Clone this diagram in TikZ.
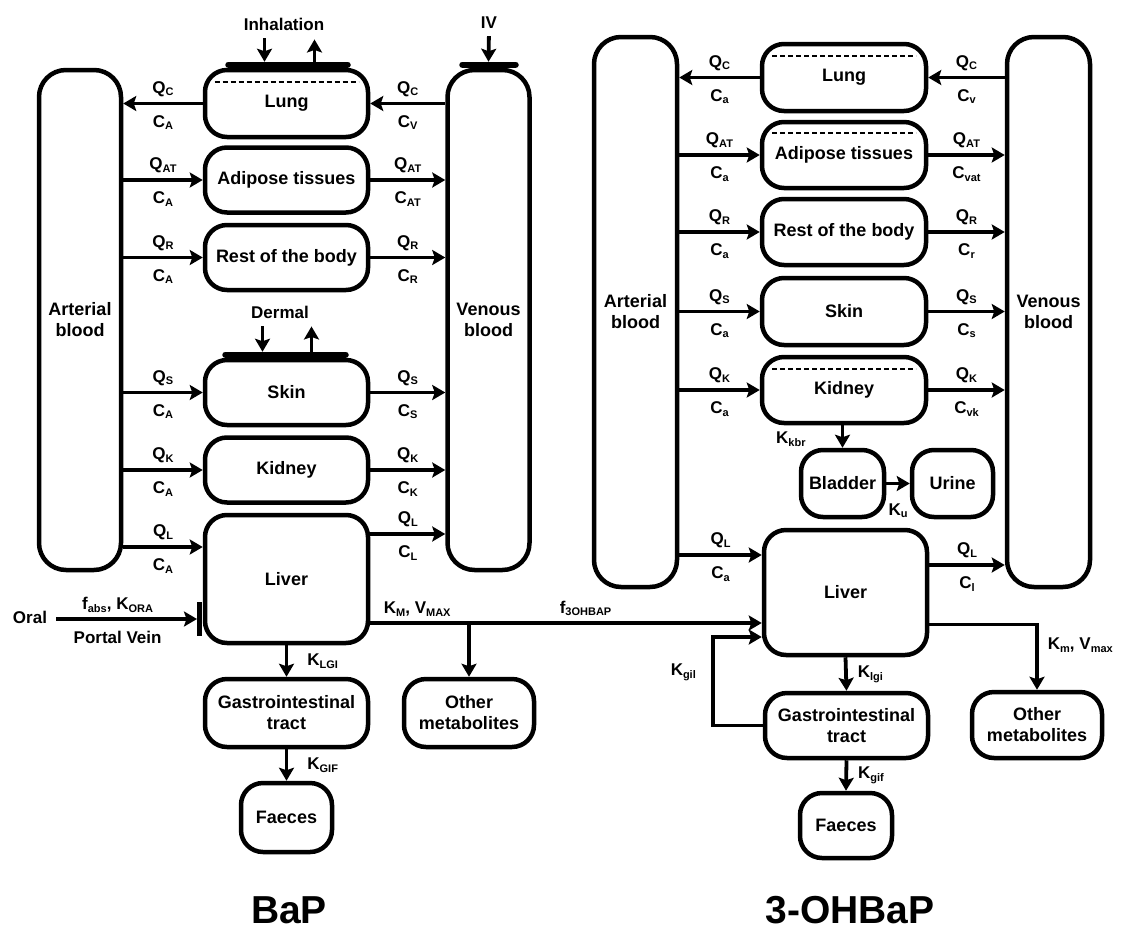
\documentclass[tikz,border=0pt]{standalone}
\usepackage{fontspec}
\setmainfont{Liberation Sans}
\usepackage{tikz}
\usetikzlibrary{arrows.meta}
\usetikzlibrary{calc}

\newcommand\sbs[2]{#1\raisebox{-0.3ex}{\fontsize{11}{11}\selectfont #2}}

\tikzset{
  box/.style={draw, line width=4.5pt, rounded corners=22pt, minimum width=163pt,
    minimum height=65pt, align=center, inner sep=0pt,
    font=\fontsize{18}{21}\selectfont\bfseries},
  blood/.style={box, rounded corners=27pt, minimum width=82pt},
  arr/.style={line width=3.8pt, -{Stealth[length=13pt,width=15pt,inset=2.5pt]}},
  lbl/.style={font=\fontsize{17}{20}\selectfont\bfseries, inner sep=1pt},
  qlab/.style={lbl, above=4pt},
  clab/.style={lbl, below=9pt},
  bar/.style={line width=6.5pt, line cap=round},
  sep/.style={line width=2pt, dash pattern=on 5pt off 3pt},
}

\begin{document}
\begin{tikzpicture}[x=1pt, y=-1pt]
    \useasboundingbox (0,0) rectangle (1124,932);

    % BaP
    \node[blood, minimum height=500pt] (art1) at (80,320) {Arterial\\blood};
    \node[blood, minimum height=500pt] (ven1) at (488.5,320) {Venous\\blood};
    \node[box, minimum height=67pt] (lung1) at (286.5,103.5) {Lung};
    \node[box] (adi1) at (286.5,180) {Adipose tissues};
    \node[box] (rest1) at (286.5,257.5) {Rest of the body};
    \node[box] (skin1) at (286.5,392.5) {Skin};
    \node[box] (kid1) at (286.5,470) {Kidney};
    \node[box, minimum height=128pt] (liv1) at (286.5,579) {Liver};
    \node[box, minimum height=68pt] (gi1) at (286.5,713) {Gastrointestinal\\tract};
    \node[box, minimum width=130pt, minimum height=68pt] (oth1) at (469,713) {Other\\metabolites};
    \node[box, minimum width=91pt, minimum height=69pt] (fae1) at (286.5,817.5) {Faeces};
    \node[font=\fontsize{39}{44}\selectfont\bfseries] (bap) at (289,910) {BaP};

    \draw[sep] ([shift={(-72pt,-14pt)}]lung1.north) -- ([shift={(72pt,-14pt)}]lung1.north);
    \draw[bar] ([shift={(-58pt,3pt)}]lung1.north) -- ([shift={(61pt,3pt)}]lung1.north);
    \node[lbl] (inh) at (284,24) {Inhalation};
    \coordinate (lungin) at ([shift={(-22pt,6pt)}]lung1.north);
    \coordinate (lungout) at ([shift={(28pt,6pt)}]lung1.north);
    \draw[arr, shorten <=7pt] (lungin |- inh.south) -- (lungin);
    \draw[arr, shorten >=8pt] (lungout) -- (lungout |- inh.south);

    \draw[bar] ([shift={(-26pt,3pt)}]ven1.north) -- ([shift={(27pt,3pt)}]ven1.north);
    \node[lbl] (iv) at (489,23) {IV};
    \draw[arr, shorten <=6pt] (iv.south) -- ([yshift=6pt]ven1.north);

    \draw[bar] ([shift={(-61pt,3pt)}]skin1.north) -- ([shift={(59pt,3pt)}]skin1.north);
    \node[lbl] (derm) at (280,312) {Dermal};
    \coordinate (skinin) at ([shift={(-24pt,6pt)}]skin1.north);
    \coordinate (skinout) at ([shift={(25pt,6pt)}]skin1.north);
    \draw[arr, shorten <=7pt] (skinin |- derm.south) -- (skinin);
    \draw[arr, shorten >=7pt] (skinout) -- (skinout |- derm.south);

    \draw[arr] (lung1.west) -- node[qlab]{\sbs{Q}{C}} node[clab]{\sbs{C}{A}} (art1.east |- lung1);
    \draw[arr] (ven1.west |- lung1) -- node[qlab]{\sbs{Q}{C}} node[clab]{\sbs{C}{V}} (lung1.east);
    \draw[arr] (art1.east |- adi1) -- node[qlab]{\sbs{Q}{AT}} node[clab]{\sbs{C}{A}} (adi1.west);
    \draw[arr] (adi1.east) -- node[qlab]{\sbs{Q}{AT}} node[clab]{\sbs{C}{AT}} (ven1.west |- adi1);
    \draw[arr] (art1.east |- rest1) -- node[qlab]{\sbs{Q}{R}} node[clab]{\sbs{C}{A}} (rest1.west);
    \draw[arr] (rest1.east) -- node[qlab]{\sbs{Q}{R}} node[clab]{\sbs{C}{R}} (ven1.west |- rest1);
    \draw[arr] (art1.east |- skin1) -- node[qlab]{\sbs{Q}{S}} node[clab]{\sbs{C}{A}} (skin1.west);
    \draw[arr] (skin1.east) -- node[qlab]{\sbs{Q}{S}} node[clab]{\sbs{C}{S}} (ven1.west |- skin1);
    \draw[arr] (art1.east |- kid1) -- node[qlab]{\sbs{Q}{K}} node[clab]{\sbs{C}{A}} (kid1.west);
    \draw[arr] (kid1.east) -- node[qlab]{\sbs{Q}{K}} node[clab]{\sbs{C}{K}} (ven1.west |- kid1);
    \coordinate (liv1in) at ([yshift=32pt]liv1.west);
    \coordinate (liv1out) at ([yshift=45pt]liv1.east);
    \draw[arr] (art1.east |- liv1in) -- node[qlab]{\sbs{Q}{L}} node[clab]{\sbs{C}{A}} (liv1in);
    \draw[arr] (liv1out) -- node[qlab]{\sbs{Q}{L}} node[clab]{\sbs{C}{L}} (ven1.west |- liv1out);

    \node[lbl] (oral) at (30,617) {Oral};
    \coordinate (portal) at (199,619);
    \draw[arr, shorten <=8pt, shorten >=2pt] (oral.east |- portal) --
        node[qlab, xshift=-6pt]{\sbs{f}{abs}, \sbs{K}{ORA}} node[clab, xshift=-6pt]{Portal Vein} (portal);
    \draw[line width=5pt] ([yshift=17pt]portal) -- ([yshift=-17pt]portal);

    \draw[arr] (liv1.south) -- node[lbl, right=18pt]{\sbs{K}{LGI}} (gi1.north);
    \draw[arr] (gi1.south) -- node[lbl, right=18pt]{\sbs{K}{GIF}} (fae1.north);

    % 3-OHBaP
    \node[blood, minimum height=550pt, minimum width=83pt] (art2) at (635.5,312) {Arterial\\blood};
    \node[blood, minimum height=550pt, minimum width=83pt] (ven2) at (1048.5,312) {Venous\\blood};
    \node[box, minimum width=164pt, minimum height=67pt] (lung2) at (844,77.5) {Lung};
    \node[box, minimum width=164pt, minimum height=66pt] (adi2) at (844,155) {Adipose tissues};
    \node[box, minimum width=164pt, minimum height=66pt] (rest2) at (844,232) {Rest of the body};
    \node[box, minimum width=164pt, minimum height=67pt] (skin2) at (844,311.5) {Skin};
    \node[box, minimum width=164pt, minimum height=66pt] (kid2) at (844,390) {Kidney};
    \node[box, minimum width=83pt, minimum height=67pt] (bla2) at (842.5,483.5) {Bladder};
    \node[box, minimum width=81pt, minimum height=67pt] (uri2) at (952.5,483.5) {Urine};
    \node[box, minimum height=125pt] (liv2) at (845.5,592.5) {Liver};
    \node[box] (gi2) at (846.5,725.5) {Gastrointestinal\\tract};
    \node[box, minimum width=130pt, minimum height=66pt] (oth2) at (1037,725) {Other\\metabolites};
    \node[box, minimum width=92pt] (fae2) at (846,825.5) {Faeces};
    \node[font=\fontsize{39}{44}\selectfont\bfseries] (ohbap) at (850,910) {3-OHBaP};

    \draw[sep] ([shift={(-72pt,-14pt)}]lung2.north) -- ([shift={(72pt,-14pt)}]lung2.north);
    \draw[sep] ([shift={(-72pt,-13pt)}]adi2.north) -- ([shift={(72pt,-13pt)}]adi2.north);
    \draw[sep] ([shift={(-72pt,-14pt)}]kid2.north) -- ([shift={(72pt,-14pt)}]kid2.north);

    \draw[arr] (lung2.west) -- node[qlab]{\sbs{Q}{C}} node[clab]{\sbs{C}{a}} (art2.east |- lung2);
    \draw[arr] (ven2.west |- lung2) -- node[qlab]{\sbs{Q}{C}} node[clab]{\sbs{C}{v}} (lung2.east);
    \draw[arr] (art2.east |- adi2) -- node[qlab]{\sbs{Q}{AT}} node[clab]{\sbs{C}{a}} (adi2.west);
    \draw[arr] (adi2.east) -- node[qlab]{\sbs{Q}{AT}} node[clab]{\sbs{C}{vat}} (ven2.west |- adi2);
    \draw[arr] (art2.east |- rest2) -- node[qlab]{\sbs{Q}{R}} node[clab]{\sbs{C}{a}} (rest2.west);
    \draw[arr] (rest2.east) -- node[qlab]{\sbs{Q}{R}} node[clab]{\sbs{C}{r}} (ven2.west |- rest2);
    \draw[arr] (art2.east |- skin2) -- node[qlab]{\sbs{Q}{S}} node[clab]{\sbs{C}{a}} (skin2.west);
    \draw[arr] (skin2.east) -- node[qlab]{\sbs{Q}{S}} node[clab]{\sbs{C}{s}} (ven2.west |- skin2);
    \draw[arr] (art2.east |- kid2) -- node[qlab]{\sbs{Q}{K}} node[clab]{\sbs{C}{a}} (kid2.west);
    \draw[arr] (kid2.east) -- node[qlab]{\sbs{Q}{K}} node[clab]{\sbs{C}{vk}} (ven2.west |- kid2);
    \coordinate (liv2in) at ([yshift=37.5pt]liv2.west);
    \coordinate (liv2out) at ([yshift=27.5pt]liv2.east);
    \draw[arr] (art2.east |- liv2in) -- node[qlab]{\sbs{Q}{L}} node[clab]{\sbs{C}{a}} (liv2in);
    \draw[arr] (liv2out) -- node[qlab]{\sbs{Q}{L}} node[clab]{\sbs{C}{l}} (ven2.west |- liv2out);

    \draw[arr] (bla2.north |- kid2.south) -- node[lbl, pos=0.63, left=34pt]{\sbs{K}{kbr}} (bla2.north);
    \draw[arr] (bla2.east) -- node[lbl, below=17pt]{\sbs{K}{u}} (uri2.west);

    % metabolism
    \coordinate (met1) at ([yshift=-44pt]liv1.east);
    \draw[arr] (met1) -- node[qlab, pos=0.12]{\sbs{K}{M}, \sbs{V}{MAX}}
        node[qlab, pos=0.55]{\sbs{f}{3OHBAP}} (met1 -| liv2.west);
    \draw[arr] (met1 -| oth1.north) -- (oth1.north);
    \draw[arr] ([yshift=-32pt]liv2.east) -| node[lbl, pos=0.66, right=8pt]{\sbs{K}{m}, \sbs{V}{max}} (oth2.north);

    \draw[arr] (liv2.south) -- node[lbl, right=9pt]{\sbs{K}{lgi}} (gi2.north);
    \draw[arr] (gi2.south) -- node[lbl, right=9pt]{\sbs{K}{gif}} (fae2.north);
    \draw[arr] (gi2.west) -- ++(-50,0) |- node[lbl, pos=0.3, left=14pt]{\sbs{K}{gil}} ([yshift=-44.5pt]liv2.west);
\end{tikzpicture}
\end{document}
